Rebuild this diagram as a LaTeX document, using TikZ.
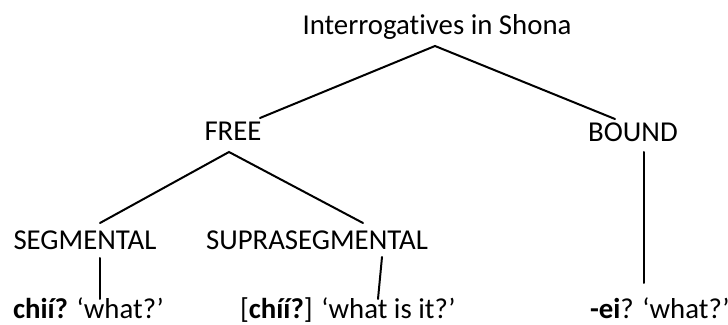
\documentclass[tikz,border=0pt]{standalone}
\usepackage{fontspec}
\setmainfont{Carlito}[Ligatures=NoCommon]
\begin{document}
\begin{tikzpicture}[x=0.5pt,y=-0.5pt,
  lbl/.style={inner sep=0pt,outer sep=0pt,font=\fontsize{14.4}{17}\selectfont},
  branch/.style={line width=1pt,line cap=round}]
\useasboundingbox (0,0) rectangle (728,325);
\node[lbl,anchor=base] (title) at (437,35) {Interrogatives in Shona};
\node[lbl,anchor=base] (free) at (233,141) {FREE};
\node[lbl,anchor=base] (bound) at (633,142) {BOUND};
\node[lbl,anchor=base] (seg) at (85,250) {SEGMENTAL};
\node[lbl,anchor=base] (supra) at (317,250) {SUPRASEGMENTAL};
\node[lbl,anchor=base west] (ex1) at (13,319) {\textbf{chií?} ‘what?’};
\node[lbl,anchor=base west] (ex2) at (240,319) {[\textbf{chíí?}] ‘what is it?’};
\node[lbl,anchor=base west] (ex3) at (590,319) {\textbf{-ei}? ‘what?’};
\draw[branch] ([shift={(27,-23)}]free.base) -- ([shift={(-2,11)}]title.base) -- ([shift={(-18,-23)}]bound.base);
\draw[branch] ([shift={(15,-27)}]seg.base) -- ([shift={(-4,11)}]free.base) -- ([shift={(46,-27)}]supra.base);
\draw[branch] ([shift={(15,8)}]seg.base) -- ([shift={(87,-20)}]ex1.base west);
\draw[branch] ([shift={(65,7)}]supra.base) -- ([shift={(138,-20)}]ex2.base west);
\draw[branch] ([shift={(11,10)}]bound.base) -- ([shift={(54,-36)}]ex3.base west);
\end{tikzpicture}
\end{document}
